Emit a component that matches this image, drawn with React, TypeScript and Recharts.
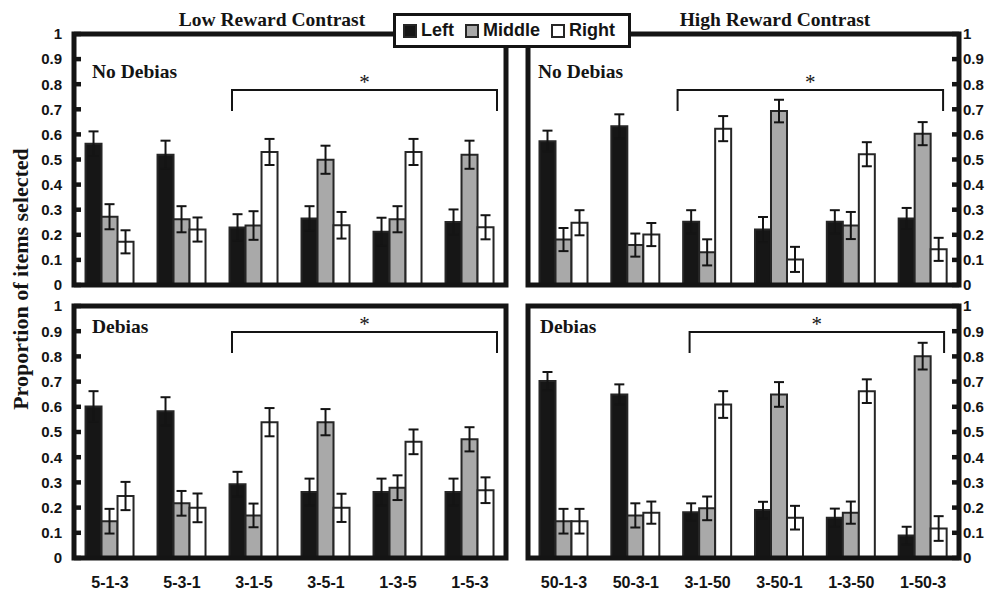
import React from 'react';
import { BarChart, Bar, XAxis, YAxis, ErrorBar, ReferenceLine } from 'recharts';

const lowCategories = ['5-1-3', '5-3-1', '3-1-5', '3-5-1', '1-3-5', '1-5-3'];
const highCategories = ['50-1-3', '50-3-1', '3-1-50', '3-50-1', '1-3-50', '1-50-3'];
const yTicks = [0, 0.1, 0.2, 0.3, 0.4, 0.5, 0.6, 0.7, 0.8, 0.9, 1];

// Low reward contrast, no debias
const lowNoLeft = [0.563, 0.519, 0.229, 0.265, 0.212, 0.251];
const lowNoLeftErr = [0.049, 0.056, 0.053, 0.049, 0.056, 0.05];
const lowNoMiddle = [0.272, 0.262, 0.237, 0.499, 0.262, 0.519];
const lowNoMiddleErr = [0.05, 0.052, 0.057, 0.056, 0.052, 0.056];
const lowNoRight = [0.172, 0.221, 0.53, 0.238, 0.53, 0.23];
const lowNoRightErr = [0.046, 0.048, 0.052, 0.053, 0.052, 0.048];

// High reward contrast, no debias
const highNoLeft = [0.573, 0.632, 0.252, 0.221, 0.252, 0.265];
const highNoLeftErr = [0.042, 0.048, 0.046, 0.05, 0.046, 0.042];
const highNoMiddle = [0.181, 0.159, 0.13, 0.693, 0.237, 0.603];
const highNoMiddleErr = [0.046, 0.046, 0.052, 0.045, 0.054, 0.046];
const highNoRight = [0.248, 0.201, 0.623, 0.102, 0.521, 0.142];
const highNoRightErr = [0.05, 0.046, 0.05, 0.05, 0.048, 0.046];

// Low reward contrast, debias
const lowDbLeft = [0.601, 0.582, 0.293, 0.262, 0.262, 0.262];
const lowDbLeftErr = [0.061, 0.056, 0.049, 0.053, 0.053, 0.053];
const lowDbMiddle = [0.146, 0.217, 0.169, 0.539, 0.279, 0.471];
const lowDbMiddleErr = [0.049, 0.049, 0.047, 0.052, 0.049, 0.048];
const lowDbRight = [0.246, 0.199, 0.539, 0.199, 0.461, 0.269];
const lowDbRightErr = [0.056, 0.057, 0.056, 0.056, 0.049, 0.051];

// High reward contrast, debias
const highDbLeft = [0.702, 0.649, 0.182, 0.19, 0.16, 0.089];
const highDbLeftErr = [0.036, 0.04, 0.035, 0.033, 0.036, 0.035];
const highDbMiddle = [0.146, 0.169, 0.197, 0.649, 0.18, 0.801];
const highDbMiddleErr = [0.049, 0.048, 0.047, 0.049, 0.044, 0.053];
const highDbRight = [0.146, 0.18, 0.609, 0.16, 0.662, 0.117];
const highDbRightErr = [0.049, 0.044, 0.053, 0.047, 0.047, 0.049];

const seriesNames = ['Left', 'Middle', 'Right'];
const seriesColors = ['#161616', '#a9a9a9', '#ffffff'];

const SANS = '"Liberation Sans", Arial, Helvetica, sans-serif';
const SERIF = '"Liberation Serif", "Times New Roman", serif';
const INK = '#141414';

const buildRows = (cats: string[], l: number[], le: number[], m: number[], me: number[], r: number[], re: number[]) =>
  cats.map((c, i) => ({ cat: c, left: l[i], leftErr: le[i], middle: m[i], middleErr: me[i], right: r[i], rightErr: re[i] }));

const LeftTick = (props: any) => {
  const { x, y, payload } = props;
  return (
    <g>
      <rect x={x + 12} y={y - 2.25} width={7} height={4.5} fill={INK} />
      <text x={x} y={y} dy="0.355em" textAnchor="end" fontSize={15} fontWeight="bold" fontFamily={SANS} fill={INK}>
        {String(payload.value)}
      </text>
    </g>
  );
};

const RightTick = (props: any) => {
  const { x, y, payload } = props;
  return (
    <g>
      <rect x={x - 11} y={y - 2.25} width={7} height={4.5} fill={INK} />
      <text x={x} y={y} dy="0.355em" textAnchor="start" fontSize={15} fontWeight="bold" fontFamily={SANS} fill={INK}>
        {String(payload.value)}
      </text>
    </g>
  );
};

const Bracket = (props: any) => {
  const { x1, y1, x2, padL, padR } = props;
  const l = x1 - padL;
  const r = x2 + padR;
  return (
    <g>
      <path d={`M${l},${y1 + 21}V${y1}H${r}V${y1 + 21}`} stroke={INK} strokeWidth={2} fill="none" />
      <text x={(l + r) / 2} y={y1 - 1} textAnchor="middle" fontSize={21} fontFamily={SERIF} fill={INK}>
        *
      </text>
    </g>
  );
};

interface PanelProps {
  rows: any[];
  cats: string[];
  width: number;
  height: number;
  margin: { top: number; right: number; bottom: number; left: number };
  side: 'left' | 'right';
  showX: boolean;
  bracketY: number;
  padL: number;
  padR: number;
}

const Panel = ({ rows, cats, width, height, margin, side, showX, bracketY, padL, padR }: PanelProps) => (
  <BarChart width={width} height={height} data={rows} margin={margin} barCategoryGap="16%" barGap={0}>
    <XAxis
      dataKey="cat"
      hide={!showX}
      interval={0}
      axisLine={false}
      tickLine={false}
      tickSize={0}
      tickMargin={19}
      height={30}
      tick={{ fontSize: 16, fontWeight: 'bold', fontFamily: SANS, fill: INK }}
    />
    <YAxis
      orientation={side}
      domain={[0, 1]}
      ticks={yTicks}
      interval={0}
      axisLine={false}
      tickLine={false}
      tickSize={0}
      tickMargin={side === 'left' ? 12 : 4}
      width={side === 'left' ? 74 : 28}
      tick={side === 'left' ? <LeftTick /> : <RightTick />}
    />
    {['left', 'middle', 'right'].map((k, i) => (
      <Bar key={k} dataKey={k} name={seriesNames[i]} fill={seriesColors[i]} stroke="#262626" strokeWidth={2} isAnimationActive={false}>
        <ErrorBar dataKey={`${k}Err`} width={5} stroke={INK} strokeWidth={2} direction="y" />
      </Bar>
    ))}
    <ReferenceLine
      segment={[{ x: cats[2], y: bracketY }, { x: cats[5], y: bracketY }]}
      shape={(p: any) => <Bracket {...p} padL={padL} padR={padR} />}
    />
  </BarChart>
);

const frames = [
  { x: 74, y: 34, w: 432, h: 251 },
  { x: 528, y: 34, w: 431, h: 251 },
  { x: 74, y: 306, w: 432, h: 252 },
  { x: 528, y: 306, w: 431, h: 252 },
];

export default function App() {
  const tl = buildRows(lowCategories, lowNoLeft, lowNoLeftErr, lowNoMiddle, lowNoMiddleErr, lowNoRight, lowNoRightErr);
  const tr = buildRows(highCategories, highNoLeft, highNoLeftErr, highNoMiddle, highNoMiddleErr, highNoRight, highNoRightErr);
  const bl = buildRows(lowCategories, lowDbLeft, lowDbLeftErr, lowDbMiddle, lowDbMiddleErr, lowDbRight, lowDbRightErr);
  const br = buildRows(highCategories, highDbLeft, highDbLeftErr, highDbMiddle, highDbMiddleErr, highDbRight, highDbRightErr);

  return (
    <div style={{ position: 'absolute', left: 0, top: 0, width: 987, height: 594, background: '#fff', overflow: 'hidden' }}>
      <div style={{ position: 'absolute', left: 0, top: 0 }}>
        <Panel rows={tl} cats={lowCategories} width={520} height={300} margin={{ top: 34, right: 14, bottom: 15, left: 0 }}
          side="left" showX={false} bracketY={0.777} padL={22} padR={27} />
      </div>
      <div style={{ position: 'absolute', left: 500, top: 0 }}>
        <Panel rows={tr} cats={highCategories} width={487} height={300} margin={{ top: 34, right: 0, bottom: 15, left: 28 }}
          side="right" showX={false} bracketY={0.777} padL={30} padR={20} />
      </div>
      <div style={{ position: 'absolute', left: 0, top: 290 }}>
        <Panel rows={bl} cats={lowCategories} width={520} height={304} margin={{ top: 16, right: 14, bottom: 6, left: 0 }}
          side="left" showX={true} bracketY={0.897} padL={22} padR={27} />
      </div>
      <div style={{ position: 'absolute', left: 500, top: 290 }}>
        <Panel rows={br} cats={highCategories} width={487} height={304} margin={{ top: 16, right: 0, bottom: 6, left: 28 }}
          side="right" showX={true} bracketY={0.897} padL={18} padR={21} />
      </div>

      <svg width={987} height={594} style={{ position: 'absolute', left: 0, top: 0, pointerEvents: 'none' }}>
        {frames.map((f, i) => (
          <rect key={i} x={f.x} y={f.y} width={f.w} height={f.h} fill="none" stroke={INK} strokeWidth={5} />
        ))}
        <text x={272} y={26} textAnchor="middle" fontSize={19.5} fontWeight="bold" fontFamily={SERIF} fill={INK}>Low Reward Contrast</text>
        <text x={775} y={26} textAnchor="middle" fontSize={19.5} fontWeight="bold" fontFamily={SERIF} fill={INK}>High Reward Contrast</text>
        <text x={92} y={78} fontSize={19.5} fontWeight="bold" fontFamily={SERIF} fill={INK}>No Debias</text>
        <text x={538} y={78} fontSize={19.5} fontWeight="bold" fontFamily={SERIF} fill={INK}>No Debias</text>
        <text x={92} y={333} fontSize={19.5} fontWeight="bold" fontFamily={SERIF} fill={INK}>Debias</text>
        <text x={540} y={333} fontSize={19.5} fontWeight="bold" fontFamily={SERIF} fill={INK}>Debias</text>
        <text x={0} y={0} transform="translate(28,279) rotate(-90)" textAnchor="middle" fontSize={22} fontWeight="bold" fontFamily={SERIF} fill={INK}>
          Proportion of items selected
        </text>
      </svg>

      <div style={{
        position: 'absolute', left: 393, top: 13, width: 238, height: 35, boxSizing: 'border-box',
        border: `3px solid ${INK}`, background: '#fff', display: 'flex', alignItems: 'center', paddingLeft: 7,
        fontFamily: SANS, fontWeight: 'bold', fontSize: 18, color: INK,
      }}>
        {seriesNames.map((n, i) => (
          <div key={n} style={{ display: 'flex', alignItems: 'center', marginRight: 11 }}>
            <span style={{ display: 'inline-block', width: 14, height: 14, boxSizing: 'border-box', background: seriesColors[i], border: '2px solid #262626', marginRight: 4 }} />
            <span>{n}</span>
          </div>
        ))}
      </div>
    </div>
  );
}
